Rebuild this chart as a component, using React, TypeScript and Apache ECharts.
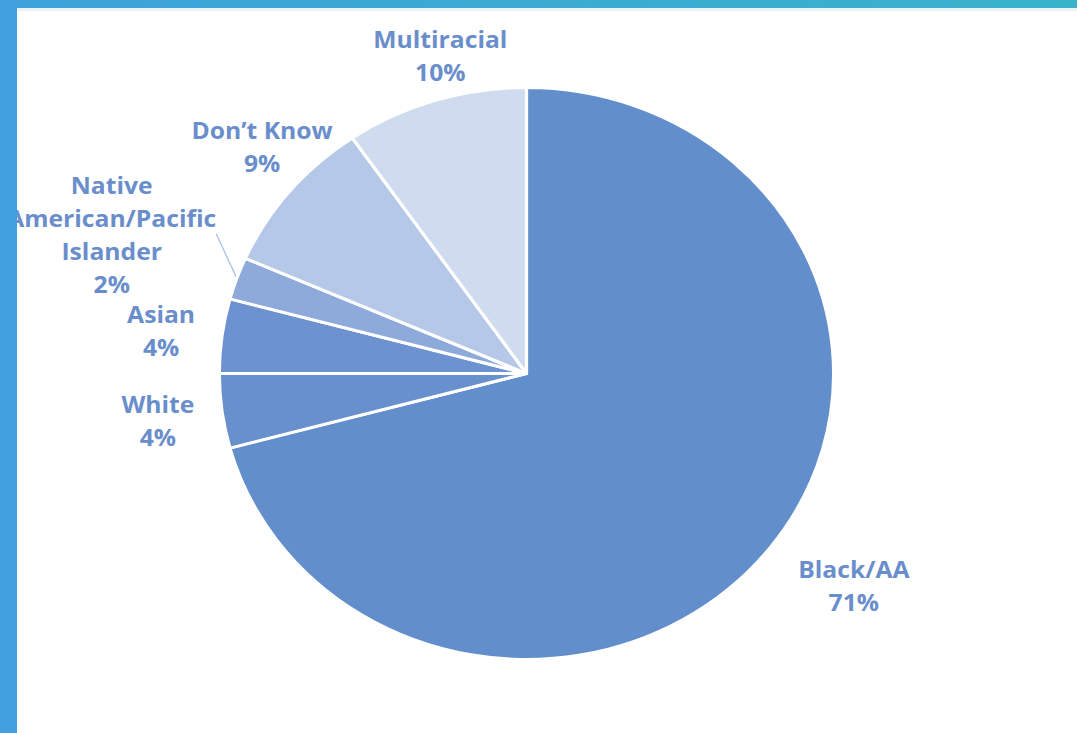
import React, { useEffect, useRef } from "react";
import * as echarts from "echarts";

const categories = [
  "Black/AA",
  "White",
  "Asian",
  "Native\nAmerican/Pacific\nIslander",
  "Don’t Know",
  "Multiracial",
];
const values = [70.8, 4.2, 4.2, 2.4, 8.8, 9.6];
const sliceColors = ["#638ecc", "#6790cc", "#6c93cf", "#8eaadb", "#b5c8e8", "#cfdcf0"];
// label block centres (chart space, before horizontal stretch)
const labelCenters = [
  [795, 585],
  [147, 420],
  [150, 330],
  [104, 234],
  [244, 146],
  [410, 55],
];

const STRETCH = 1.074;
const W = 1077;
const H = 733;
const CW = W / STRETCH;

export default function App() {
  const ref = useRef<HTMLDivElement>(null);
  useEffect(() => {
    if (!ref.current) return;
    const chart = echarts.init(ref.current, null, { renderer: "svg" });
    chart.setOption({
      animation: false,
      backgroundColor: "#ffffff",
      graphic: [
        {
          type: "rect",
          z: 100,
          shape: { x: 0, y: 0, width: CW, height: 8 },
          style: {
            fill: new echarts.graphic.LinearGradient(0, 0, 1, 0, [
              { offset: 0, color: "#3da2da" },
              { offset: 1, color: "#39b3ca" },
            ]),
          },
        },
        {
          type: "rect",
          z: 99,
          shape: { x: 0, y: 8, width: CW, height: 3 },
          style: { fill: "#edf2f7" },
        },
        {
          type: "rect",
          z: 101,
          shape: { x: 0, y: 0, width: 17 / STRETCH, height: H },
          style: { fill: "#429fe0" },
        },
      ],
      series: [
        {
          type: "pie",
          center: [490.2, 373.5],
          radius: 286,
          startAngle: 90,
          clockwise: true,
          silent: true,
          itemStyle: { borderColor: "#ffffff", borderWidth: 3 },
          label: {
            show: true,
            position: "outside",
            formatter: (p: any) => `${p.name}\n${Math.round(p.value)}%`,
            color: "#6a8ecb",
            fontFamily: "Open Sans",
            fontWeight: "bold",
            fontSize: 23,
            lineHeight: 33,
            align: "center",
          },
          labelLine: { show: false },
          labelLayout: (params: any) => {
            const p = labelCenters[params.dataIndex];
            return { x: p[0], y: p[1], align: "center", verticalAlign: "middle" };
          },
          data: categories.map((name, i) => ({
            name,
            value: values[i],
            itemStyle: { color: sliceColors[i] },
            labelLine:
              i === 3
                ? { show: true, length: 6, length2: 0, lineStyle: { color: "#a9bde2", width: 1.2 } }
                : { show: false },
          })),
        },
      ],
    });
    return () => chart.dispose();
  }, []);
  return (
    <div
      style={{
        position: "absolute",
        left: 0,
        top: 0,
        width: W,
        height: H,
        overflow: "hidden",
        background: "#ffffff",
      }}
    >
      <div
        ref={ref}
        style={{
          width: CW,
          height: H,
          transform: `scaleX(${STRETCH})`,
          transformOrigin: "0 0",
        }}
      />
    </div>
  );
}
